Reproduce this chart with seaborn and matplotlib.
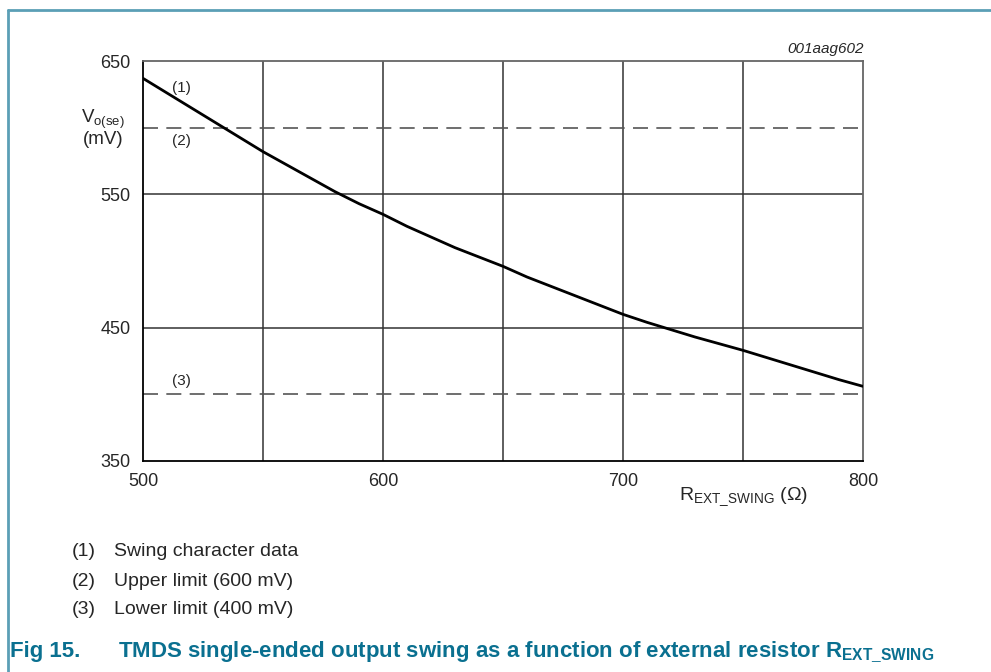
import matplotlib
matplotlib.use("Agg")
import matplotlib.pyplot as plt
import seaborn as sns
import pandas as pd
from matplotlib.lines import Line2D

# ============================================================
# DATA
# ============================================================
r_ext = [500, 510, 520, 530, 540, 550, 560, 570, 575, 580, 590, 600,
         610, 620, 630, 640, 650, 660, 670, 680, 690, 700,
         710, 720, 730, 740, 750, 760, 770, 780, 790, 800]
v_swing = [637, 626, 615, 604, 593, 582, 572, 562, 557, 552, 543, 535,
           526, 518, 510, 503, 496, 488, 481, 474, 467, 460,
           454, 448.5, 443, 438, 433, 427.5, 422, 416.5, 411, 406]
upper_limit = 600
lower_limit = 400
x_ticks = [500, 600, 700, 800]
y_ticks = [350, 450, 550, 650]
x_grid = [550, 600, 650, 700, 750]
y_grid = [450, 550]
notes = ["Swing character data", "Upper limit (600 mV)", "Lower limit (400 mV)"]

df = pd.DataFrame({"r": r_ext, "v": v_swing})

# ============================================================
# STYLE
# ============================================================
sns.set_style("white")
plt.rcParams["font.family"] = ["Liberation Sans", "DejaVu Sans"]
plt.rcParams["mathtext.fontset"] = "custom"
plt.rcParams["mathtext.rm"] = "Liberation Sans"
plt.rcParams["mathtext.bf"] = "Liberation Sans:bold"

W, H = 991, 672
fig = plt.figure(figsize=(W / 100, H / 100), dpi=100)
ax = fig.add_axes([143 / W, 1 - 461 / H, 720 / W, 400 / H])

# grid
for gx in x_grid:
    ax.axvline(gx, color="#333333", lw=1.1, zorder=1)
for gy in y_grid:
    ax.axhline(gy, color="#333333", lw=1.1, zorder=1)

# limits (dashed)
for lim in [upper_limit, lower_limit]:
    ax.axhline(lim, color="#555555", lw=1.2, dashes=(9, 5), zorder=2)

sns.lineplot(data=df, x="r", y="v", ax=ax, color="black", lw=2.0, zorder=3)

ax.set_xlim(500, 800)
ax.set_ylim(350, 650)
ax.set_xticks(x_ticks)
ax.set_yticks(y_ticks)
ax.tick_params(length=0, labelsize=13, pad=9)
ax.set_xlabel("")
ax.set_ylabel("")
for s in ["left", "bottom"]:
    ax.spines[s].set_color("black")
    ax.spines[s].set_linewidth(1.3)
for s in ["top", "right"]:
    ax.spines[s].set_color("#666666")
    ax.spines[s].set_linewidth(1.3)

# curve annotations
ax.text(516, 630, "(1)", fontsize=11, ha="center", va="center")
ax.text(516, 590, "(2)", fontsize=11, ha="center", va="center")
ax.text(516, 410, "(3)", fontsize=11, ha="center", va="center")

# axis labels
fig.text(103 / W, 1 - 119 / H, r"V$_{\mathrm{o(se)}}$", fontsize=13.5,
         ha="center", va="center")
fig.text(103 / W, 1 - 140 / H, "(mV)", fontsize=13.5, ha="center", va="center")
fig.text(744 / W, 1 - 497 / H, r"R$_{\mathrm{EXT\_SWING}}$ (Ω)", fontsize=14,
         ha="center", va="center")
fig.text(864 / W, 1 - 49 / H, "001aag602", fontsize=11, style="italic",
         ha="right", va="center")

# notes below the chart
for i, note in enumerate(notes):
    y = 1 - (552 + 29 * i) / H
    fig.text(72 / W, y, f"({i + 1})", fontsize=14, ha="left", va="center")
    fig.text(114 / W, y, note, fontsize=14, ha="left", va="center")

# caption
cap_c = "#0a7090"
fig.text(10 / W, 1 - 652 / H, "Fig 15.", fontsize=16, fontweight="bold",
         color=cap_c, ha="left", va="center")
fig.text(118 / W, 1 - 652 / H,
         r"TMDS single-ended output swing as a function of external resistor R$_{\mathbf{EXT\_SWING}}$",
         fontsize=16, fontweight="bold", color=cap_c, ha="left", va="center")

# frame
frame_c = "#5b9fb6"
fig.add_artist(Line2D([8 / W, 1], [1 - 10 / H, 1 - 10 / H], color=frame_c, lw=2,
                      transform=fig.transFigure))
fig.add_artist(Line2D([8 / W, 8 / W], [0, 1 - 10 / H], color=frame_c, lw=2,
                      transform=fig.transFigure))

plt.savefig("out.png", dpi=100)
plt.close()
